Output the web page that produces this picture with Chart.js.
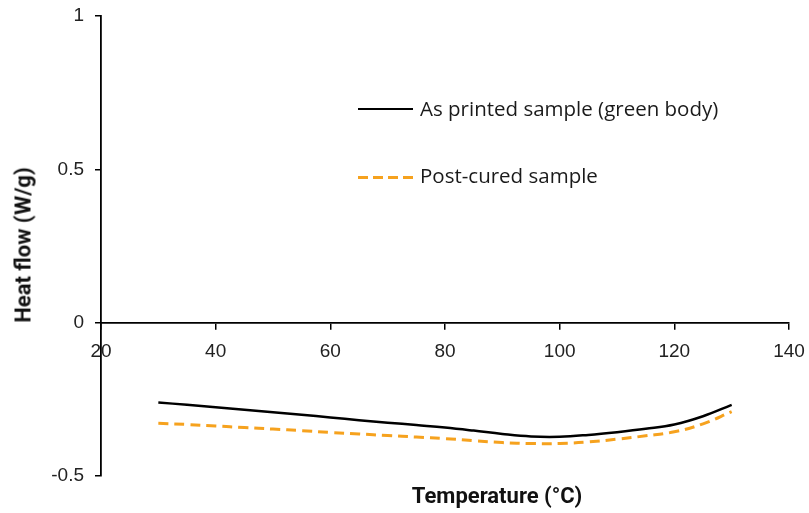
<!DOCTYPE html>
<html>
<head>
<meta charset="utf-8">
<script src="https://cdn.jsdelivr.net/npm/chart.js@4.4.1/dist/chart.umd.min.js"></script>
<style>
  body { margin: 0; background: #fff; }
  #wrap { position: relative; width: 809px; height: 513px; }
  .lbl { position: absolute; white-space: nowrap; color: #1a1a1a; }
  .ttl { font-family: Roboto, "Liberation Sans", sans-serif; font-weight: bold; font-size: 22px; color: #111; }
  .leg { font-family: "Open Sans", Lato, sans-serif; font-size: 20.5px; line-height: 26px; }
  .swatch { position: absolute; width: 55px; height: 0; }
</style>
</head>
<body>
<div id="wrap">
  <canvas id="chart" width="809" height="513"></canvas>

  <!-- legend sits inside the plot, like the excel one -->
  <div class="swatch" style="left:358px; top:108px; border-top:2.5px solid #000;"></div>
  <div class="lbl leg" id="leg1" style="left:420px; top:95px;"></div>
  <div class="swatch" style="left:358px; top:176px; height:3px; background:repeating-linear-gradient(90deg, #F6A21E 0 10px, transparent 10px 15px);"></div>
  <div class="lbl leg" id="leg2" style="left:420px; top:162px;"></div>

  <div class="lbl ttl" id="xTitle" style="left:497px; top:495px; transform: translate(-50%, -50%);"></div>
  <div class="lbl ttl" id="yTitle" style="left:23px; top:245px; transform: translate(-50%, -50%) rotate(-90deg);"></div>
</div>

<script>
// heat flow curves (DSC)

const temps = [30, 35, 40, 45, 50, 55, 60, 65, 70, 75, 80, 85, 90, 95, 100, 105, 110, 115, 120, 125, 130];

const asPrinted = [-0.260, -0.268, -0.276, -0.284, -0.292, -0.300, -0.309, -0.318, -0.326, -0.334, -0.342,
  -0.352, -0.363, -0.371, -0.372, -0.366, -0.357, -0.346, -0.332, -0.305, -0.268];

const postCured = [-0.328, -0.332, -0.337, -0.342, -0.347, -0.352, -0.358, -0.363, -0.368, -0.373, -0.378,
  -0.385, -0.391, -0.394, -0.394, -0.389, -0.380, -0.369, -0.356, -0.330, -0.290];

const seriesNames = ['As printed sample (green body)', 'Post-cured sample'];
const xTitle = 'Temperature (°C)';
const yTitle = 'Heat flow (W/g)';

const xTicks = { min: 20, max: 140, step: 20 };
const yTicks = { min: -0.5, max: 1, step: 0.5 };

document.querySelector('#leg1').innerText = seriesNames[0];
document.querySelector('#leg2').innerText = seriesNames[1];
document.querySelector('#xTitle').innerText = xTitle;
document.querySelector('#yTitle').innerText = yTitle;

function toPoints(values) {
  return temps.map((t, i) => ({ x: t, y: values[i] }));
}

// the labels hang over the plot edges, don't let them shrink the plot
function noOverhang(scale) {
  scale.paddingLeft = 0;
  scale.paddingRight = 0;
  scale.paddingTop = 0;
  scale.paddingBottom = 0;
}

const tickFont = { family: '"Liberation Sans", Arial, sans-serif', size: 19 };

const chart = new Chart(document.querySelector('#chart'), {
  type: 'line',
  data: {
    datasets: [{
        label: seriesNames[0],
        data: toPoints(asPrinted),
        borderColor: '#000',
        borderWidth: 2.5,
        pointRadius: 0,
        tension: 0.4
      },
      {
        label: seriesNames[1],
        data: toPoints(postCured),
        borderColor: '#F6A21E',
        borderWidth: 3,
        borderDash: [10, 6],
        pointRadius: 0,
        tension: 0.4
      }
    ]
  },
  options: {
    responsive: false,
    animation: false,
    layout: {
      padding: { left: 0, top: 16, right: 20, bottom: 37 }
    },
    plugins: {
      legend: { display: false },
      tooltip: { enabled: false }
    },
    scales: {
      x: {
        type: 'linear',
        position: { y: 0 },
        min: xTicks.min,
        max: xTicks.max,
        ticks: { stepSize: xTicks.step, color: '#222', font: tickFont, padding: 12 },
        grid: { drawOnChartArea: false, drawTicks: true, tickLength: 6, color: '#000', lineWidth: 1.5 },
        border: { display: true, color: '#000', width: 1.8 },
        afterFit: noOverhang
      },
      y: {
        type: 'linear',
        position: 'left',
        min: yTicks.min,
        max: yTicks.max,
        ticks: {
          stepSize: yTicks.step,
          color: '#222',
          font: tickFont,
          padding: 11,
          callback: (v) => `${v}`
        },
        grid: { drawOnChartArea: false, drawTicks: true, tickLength: 6, color: '#000', lineWidth: 1.5 },
        border: { display: true, color: '#000', width: 1.8 },
        afterFit(scale) {
          scale.width = 101;
          noOverhang(scale);
        }
      }
    }
  }
});
</script>
</body>
</html>
